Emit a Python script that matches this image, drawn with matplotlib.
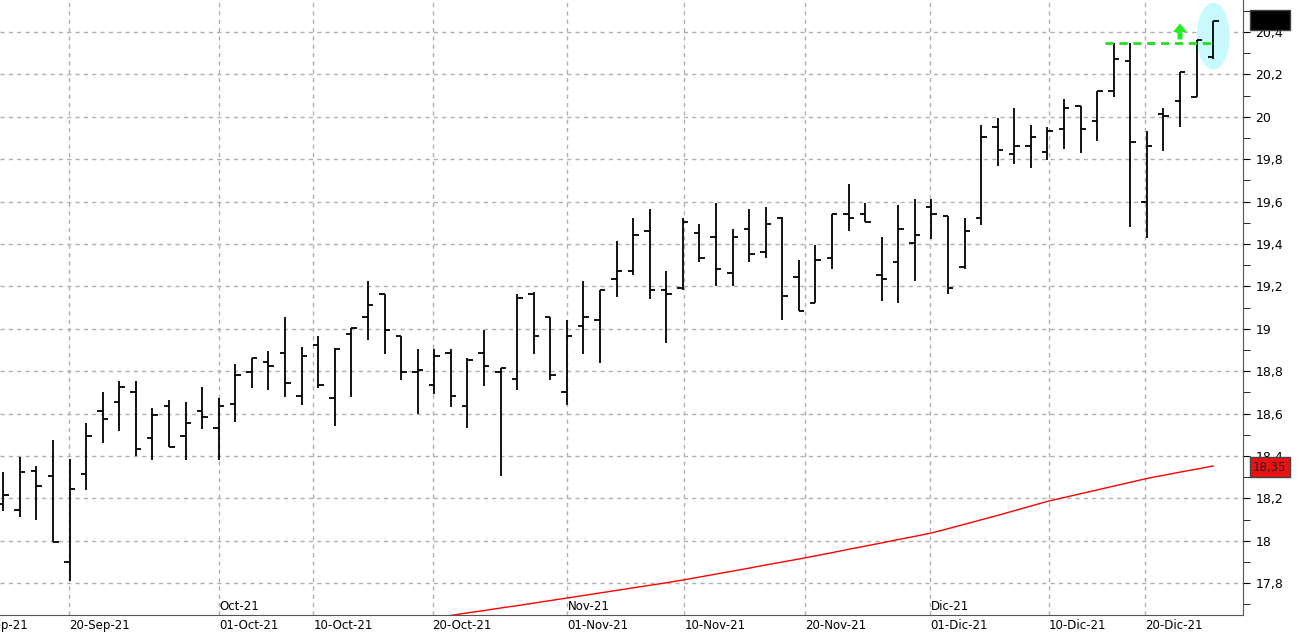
import matplotlib
matplotlib.use("Agg")
import matplotlib.pyplot as plt
from matplotlib.patches import Ellipse, FancyArrow

# OHLC bars (one per trading day)
opens = [18.174, 18.145, 18.33, 18.304, 17.90, 18.314, 18.611, 18.653, 18.70, 18.483,
         18.634, 18.493, 18.611, 18.531, 18.644, 18.795, 18.842, 18.884, 18.682, 18.922,
         18.672, 18.974, 19.056, 19.164, 18.966, 18.795, 18.733, 18.884, 18.634, 18.884,
         18.795, 18.762, 19.163, 19.056, 18.70, 19.012, 19.04, 19.233, 19.273, 19.46,
         19.182, 19.191, 19.45, 19.432, 19.262, 19.469, 19.361, 19.521, 19.243, 19.12,
         19.333, 19.54, 19.54, 19.252, 19.314, 19.403, 19.573, 19.531, 19.29, 19.521,
         19.95, 19.823, 19.861, 19.832, 19.941, 20.05, 19.979, 20.12, 20.262, 19.60,
         20.012, 20.073, 20.092, 20.28]
highs = [18.326, 18.395, 18.353, 18.475, 18.386, 18.556, 18.70, 18.754, 18.754, 18.626,
         18.664, 18.655, 18.725, 18.674, 18.834, 18.861, 18.897, 19.056, 18.914, 18.966,
         18.911, 19.004, 19.225, 19.164, 18.966, 18.903, 18.903, 18.903, 18.861, 18.993,
         18.814, 19.164, 19.172, 19.056, 19.04, 19.225, 19.182, 19.413, 19.521, 19.564,
         19.273, 19.521, 19.493, 19.592, 19.469, 19.564, 19.573, 19.529, 19.325, 19.394,
         19.54, 19.682, 19.592, 19.432, 19.582, 19.611, 19.611, 19.531, 19.521, 19.961,
         19.993, 20.04, 19.96, 19.95, 20.083, 20.05, 20.12, 20.347, 20.347, 19.932,
         20.04, 20.211, 20.361, 20.45]
lows = [18.142, 18.114, 18.10, 17.993, 17.812, 18.241, 18.463, 18.519, 18.40, 18.383,
        18.441, 18.383, 18.529, 18.383, 18.562, 18.722, 18.713, 18.68, 18.642, 18.722,
        18.543, 18.68, 18.949, 18.883, 18.76, 18.60, 18.691, 18.633, 18.53, 18.732,
        18.304, 18.713, 18.883, 18.76, 18.639, 18.883, 18.84, 19.151, 19.252, 19.142,
        18.931, 19.182, 19.314, 19.20, 19.20, 19.314, 19.333, 19.04, 19.083, 19.12,
        19.28, 19.46, 19.502, 19.13, 19.12, 19.224, 19.422, 19.163, 19.28, 19.49,
        19.769, 19.779, 19.76, 19.798, 19.85, 19.831, 19.887, 20.092, 19.482, 19.43,
        19.84, 19.95, 20.092, 20.271]
closes = [18.215, 18.325, 18.26, 17.993, 18.243, 18.494, 18.573, 18.724, 18.432, 18.592,
          18.441, 18.554, 18.583, 18.634, 18.781, 18.861, 18.823, 18.743, 18.87, 18.733,
          18.903, 19.004, 19.111, 18.993, 18.795, 18.804, 18.87, 18.682, 18.851, 18.823,
          18.814, 19.144, 18.966, 18.781, 18.966, 19.056, 19.182, 19.273, 19.441, 19.182,
          19.163, 19.502, 19.333, 19.28, 19.432, 19.351, 19.493, 19.153, 19.083, 19.323,
          19.54, 19.521, 19.502, 19.233, 19.469, 19.441, 19.54, 19.191, 19.46, 19.903,
          19.842, 19.861, 19.903, 19.932, 20.04, 19.941, 20.12, 20.271, 19.88, 19.861,
          20.002, 20.211, 20.361, 20.45]

# moving average (red), starts at bar 27
ma_start = 27
ma = [17.648, 17.66, 17.671, 17.683, 17.694, 17.706, 17.718, 17.73, 17.742, 17.754,
      17.766, 17.778, 17.79, 17.802, 17.815, 17.829, 17.843, 17.857, 17.871, 17.886,
      17.9, 17.914, 17.929, 17.944, 17.96, 17.975, 17.99, 18.006, 18.021, 18.037,
      18.057, 18.078, 18.099, 18.12, 18.142, 18.164, 18.186, 18.204, 18.222, 18.24,
      18.258, 18.276, 18.294, 18.309, 18.324, 18.338, 18.353]

date_labels = ['10-Sep-21', '20-Sep-21', '01-Oct-21', '10-Oct-21', '20-Oct-21', '01-Nov-21',
               '10-Nov-21', '20-Nov-21', '01-Dic-21', '10-Dic-21', '20-Dic-21']
date_pos = [-2.0, 3.97, 13.0, 18.7, 25.9, 34.0, 41.1, 48.4, 55.9, 63.1, 68.9]
month_labels = ['Oct-21', 'Nov-21', 'Dic-21']
month_pos = [13.0, 34.0, 55.9]
resistance = 20.35

fig = plt.figure(figsize=(13.02, 6.35), dpi=100)
ax = fig.add_axes([0, 20/635, 1243/1302, 615/635])

# grid
for v in [17.8 + 0.2*k for k in range(14)]:
    ax.axhline(v, color='#b0b0b0', linestyle=(0, (3, 3)), linewidth=1, zorder=0)
for p in date_pos[1:]:
    ax.axvline(p, color='#b0b0b0', linestyle=(0, (3, 3)), linewidth=1, zorder=0)

# ohlc bars
for i in range(len(opens)):
    ax.plot([i, i], [lows[i], highs[i]], color='black', linewidth=1.3, solid_capstyle='butt')
    ax.plot([i - 0.33, i], [opens[i], opens[i]], color='black', linewidth=1.3, solid_capstyle='butt')
    ax.plot([i, i + 0.33], [closes[i], closes[i]], color='black', linewidth=1.3, solid_capstyle='butt')

ax.plot(range(ma_start, ma_start + len(ma)), ma, color='red', linewidth=1)

# annotations
ax.add_patch(Ellipse((73, 20.38), 1.9, 0.31, color='#c8fafd', zorder=0.5))
ax.plot([66.5, 73], [resistance, resistance], color='#22dd22', linestyle=(0, (3, 2)), linewidth=2)
ax.add_patch(FancyArrow(71, 20.365, 0, 0.075, width=0.3, head_width=0.85, head_length=0.04,
                        length_includes_head=True, color='#22ee22', linewidth=0))

ax.yaxis.tick_right()
yt = [17.8 + 0.2*k for k in range(14)]
ax.set_yticks(yt)
ax.set_yticklabels([('%.1f' % v).replace('.', ',').replace(',0', '') for v in yt], fontsize=9)
ax.set_yticks([17.7 + 0.2*k for k in range(15)], minor=True)
ax.tick_params(axis='y', which='both', direction='out', length=5, pad=4)
ax.set_xticks(date_pos[1:])
ax.set_xticklabels(date_labels[1:], fontsize=8.5, ha='left')
ax.tick_params(axis='x', length=0, pad=3)
ax.set_xlim(-0.2, 74.8)
ax.set_ylim(17.65, 20.551)
# first date label, cut off at the left edge
fig.text(-32/1302, 3/635, date_labels[0], fontsize=8.5, ha='left', va='bottom')
for p, lab in zip(month_pos, month_labels):
    ax.text(p + 0.05, 17.66, lab, fontsize=8.5, ha='left', va='bottom')

for s in ['top', 'left']:
    ax.spines[s].set_visible(False)
ax.spines['right'].set_color('#555555')
ax.spines['bottom'].set_color('#555555')

# price boxes on the right
fig.text(1253/1302, 1 - 20/635, '20,45', fontsize=8.5, color='black', va='center',
         bbox=dict(facecolor='black', edgecolor='#444444', pad=2.5))
fig.text(1253/1302, 1 - 467/635, '18,35', fontsize=8.5, color='#222222', va='center',
         bbox=dict(facecolor='#ee1111', edgecolor='#444444', pad=2.5))

fig.savefig('out.png', dpi=100)
